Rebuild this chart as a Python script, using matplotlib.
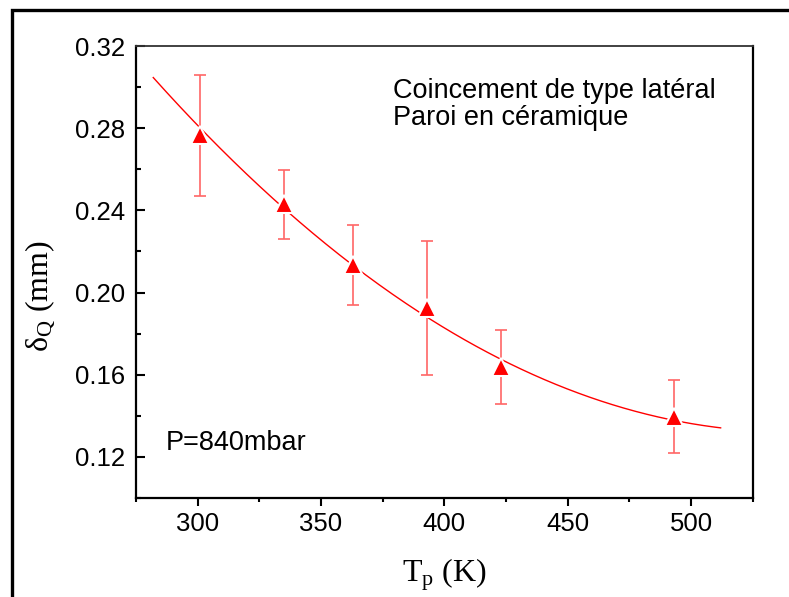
import numpy as np
import matplotlib
matplotlib.use("Agg")
import matplotlib.pyplot as plt
from matplotlib.patches import Rectangle
from matplotlib.ticker import MultipleLocator

# Data
temperature = [301, 335, 363, 393, 423, 493]          # T_p (K)
delta_q = [0.2765, 0.243, 0.2134, 0.1927, 0.1638, 0.1396]  # mm
delta_err = [0.0295, 0.0168, 0.0193, 0.0326, 0.018, 0.0177]
# quadratic fit curve: y = c2*(T-T0)^2 + c1*(T-T0) + c0
fit_t0 = 393.0
fit_coef = [2.601e-6, -7.621e-4, 0.188]
fit_range = [282, 512]

x_ticks = [300, 350, 400, 450, 500]
y_ticks = [0.12, 0.16, 0.20, 0.24, 0.28, 0.32]
y_tick_labels = ['0.12', '0.16', '0.20', '0.24', '0.28', '0.32']

plt.rcParams['mathtext.fontset'] = 'custom'
plt.rcParams['mathtext.rm'] = 'Liberation Serif'
plt.rcParams['mathtext.it'] = 'Liberation Serif:italic'

fig = plt.figure(figsize=(7.89, 5.97), dpi=100)
ax = fig.add_axes([136/789, 1-498/597, (752.7-136)/789, (498-46)/597])

xf = np.linspace(fit_range[0], fit_range[1], 300)
ax.plot(xf, np.polyval(fit_coef, xf - fit_t0), color='#ff0000', lw=1.0, zorder=2)

ax.errorbar(temperature, delta_q, yerr=delta_err, fmt='none', ecolor='#ff6666',
            elinewidth=1.2, capsize=4, capthick=1.2, zorder=3)
ax.plot(temperature, delta_q, linestyle='none', marker='^', markersize=12.5,
        color='#ff0000', markeredgecolor='white', markeredgewidth=1.5, zorder=4)

ax.set_xlim(275, 525)
ax.set_ylim(0.10, 0.32)
ax.xaxis.set_minor_locator(MultipleLocator(25))
ax.yaxis.set_minor_locator(MultipleLocator(0.02))
ax.set_yticks(y_ticks)
ax.set_yticklabels(y_tick_labels)
ax.set_xticks(x_ticks)

for lab in ax.get_xticklabels() + ax.get_yticklabels():
    lab.set_fontfamily('Liberation Sans')
    lab.set_fontsize(18.5)

ax.tick_params(axis='x', which='major', direction='out', length=6, width=1.5, pad=4,
               top=False, bottom=True)
ax.tick_params(axis='x', which='minor', direction='out', length=3.2, width=1.5,
               top=False, bottom=True)
ax.tick_params(axis='y', which='major', direction='in', length=6.5, width=1.5, pad=8,
               right=False, left=True)
ax.tick_params(axis='y', which='minor', direction='in', length=3.5, width=1.5,
               right=False, left=True)

for side in ['left', 'bottom', 'right']:
    ax.spines[side].set_linewidth(1.6)
    ax.spines[side].set_color('black')
ax.spines['top'].set_linewidth(1.3)
ax.spines['top'].set_color('#333333')

ax.text(379.2, 0.2947, 'Coincement de type latéral', ha='left', va='baseline',
        fontsize=19.5, family='Liberation Sans')
ax.text(379.2, 0.2816, 'Paroi en céramique', ha='left', va='baseline',
        fontsize=19.5, family='Liberation Sans')
ax.text(287.2, 0.1234, 'P=840mbar', ha='left', va='baseline', fontsize=19.5,
        family='Liberation Sans')

fig.text(40/789, 1-296/597, 'δ$_\\mathrm{Q}$ (mm)', rotation=90, ha='center', va='center',
         fontsize=23, family='Liberation Serif')
fig.text(444/789, 1-575/597, 'T$_\\mathrm{p}$ (K)', ha='center', va='center',
         fontsize=23, family='Liberation Serif')

frame = Rectangle((12/789, -0.05), 1.2, 1-10/597+0.05, transform=fig.transFigure,
                  fill=False, edgecolor='black', linewidth=2.4, clip_on=False)
fig.add_artist(frame)

fig.savefig('out.png', dpi=100)
